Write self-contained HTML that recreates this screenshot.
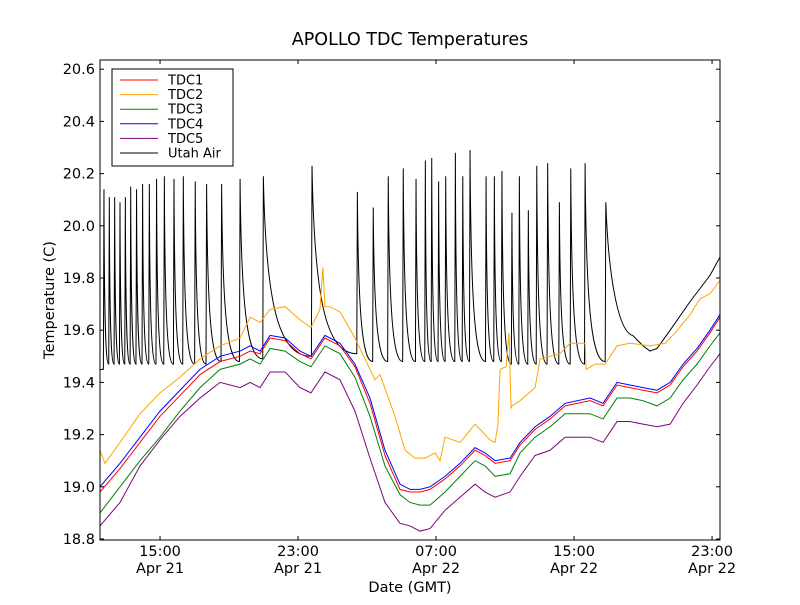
<!DOCTYPE html>
<html><head><meta charset="utf-8"><style>
body{margin:0;background:#fff;}
svg text{font-family:"DejaVu Sans","Liberation Sans",sans-serif;}
</style></head><body>
<svg id="chart" width="800" height="600" viewBox="0 0 800 600" xmlns="http://www.w3.org/2000/svg">
<rect width="800" height="600" fill="#fff"/>
<text x="410" y="45" font-size="17.5" text-anchor="middle">APOLLO TDC Temperatures</text>
<text x="54" y="300" font-size="14.5" text-anchor="middle" transform="rotate(-90 54 300)">Temperature (C)</text>
<text x="410" y="592" font-size="14.5" text-anchor="middle">Date (GMT)</text>
<defs><clipPath id="clip"><rect x="100" y="60" width="620" height="480"/></clipPath></defs>
<g id="series" clip-path="url(#clip)"></g>
<g id="axes"></g>
<rect x="100" y="60" width="620" height="480" fill="none" stroke="#000" stroke-width="1"/>
<g>
<rect x="112" y="69" width="121" height="97" fill="#fff" stroke="#000" stroke-width="1"/>
<g id="legendItems"></g>
</g>
</svg>
<script>
const tdcTimes=[11.52,12.68,13.84,15.00,16.16,17.32,18.48,19.64,20.22,20.80,21.38,22.25,23.11,23.75,24.56,25.43,26.30,27.17,28.04,28.91,29.49,30.07,30.65,31.52,32.39,33.26,33.84,34.42,35.29,35.87,36.74,37.61,38.48,39.93,40.68,41.49,42.24,43.00,43.81,44.57,45.32,46.13,46.88,47.46];
const tdc4=[19.00,19.09,19.19,19.29,19.37,19.45,19.50,19.52,19.54,19.52,19.58,19.57,19.52,19.50,19.58,19.55,19.47,19.34,19.14,19.01,18.99,18.99,19.00,19.04,19.09,19.15,19.13,19.10,19.11,19.17,19.23,19.27,19.32,19.34,19.32,19.40,19.39,19.38,19.37,19.40,19.47,19.53,19.60,19.66];
const tdc1=[18.98,19.07,19.17,19.27,19.35,19.43,19.48,19.50,19.52,19.51,19.57,19.56,19.51,19.49,19.57,19.54,19.46,19.32,19.12,18.99,18.98,18.98,18.99,19.03,19.08,19.14,19.12,19.09,19.10,19.16,19.22,19.26,19.31,19.33,19.31,19.39,19.38,19.37,19.36,19.39,19.46,19.52,19.59,19.65];
const tdc3=[18.90,19.00,19.10,19.19,19.29,19.38,19.45,19.47,19.49,19.47,19.53,19.52,19.48,19.46,19.54,19.51,19.42,19.27,19.08,18.97,18.94,18.93,18.93,18.98,19.04,19.10,19.08,19.04,19.05,19.13,19.19,19.23,19.28,19.28,19.26,19.34,19.34,19.33,19.31,19.34,19.41,19.47,19.54,19.59];
const tdc5=[18.85,18.94,19.08,19.18,19.27,19.34,19.40,19.38,19.40,19.38,19.44,19.44,19.38,19.36,19.44,19.41,19.29,19.11,18.94,18.86,18.85,18.83,18.84,18.91,18.96,19.01,18.98,18.96,18.98,19.04,19.12,19.14,19.19,19.19,19.17,19.25,19.25,19.24,19.23,19.24,19.32,19.39,19.46,19.51];
const tdc2Times=[11.52,11.81,12.68,13.84,15.00,16.16,17.32,18.48,19.64,20.22,20.80,21.38,22.25,23.11,23.75,24.27,24.44,24.56,24.85,25.43,26.30,26.88,27.46,27.75,28.62,29.20,29.78,30.36,30.94,31.23,31.52,32.39,33.26,34.13,34.42,34.59,34.71,35.06,35.23,35.35,35.41,35.87,36.74,37.03,38.19,38.77,39.64,39.70,40.22,40.80,41.49,42.24,43.40,44.28,44.86,45.73,46.30,46.88,47.46];
const tdc2=[19.14,19.09,19.17,19.28,19.36,19.42,19.49,19.54,19.57,19.65,19.63,19.68,19.69,19.64,19.61,19.68,19.84,19.69,19.69,19.67,19.57,19.49,19.41,19.43,19.27,19.14,19.11,19.11,19.13,19.10,19.19,19.17,19.24,19.18,19.17,19.24,19.45,19.46,19.59,19.30,19.31,19.33,19.38,19.49,19.51,19.55,19.55,19.45,19.47,19.47,19.54,19.55,19.54,19.55,19.59,19.66,19.72,19.74,19.79];
const utahSpikeTimes=[11.75,12.06,12.37,12.68,12.99,13.30,13.64,13.99,14.38,14.80,15.25,15.81,16.35,17.04,17.70,18.57,19.64,20.99,23.81,26.44,27.36,28.23,29.10,29.84,30.38,30.75,31.15,31.56,32.12,32.55,32.97,33.90,34.38,34.82,35.40,35.83,36.35,36.84,37.47,38.15,38.81,39.64,40.84];
const utahSpikePeaks=[20.14,20.11,20.11,20.09,20.11,20.15,20.14,20.16,20.16,20.18,20.19,20.18,20.19,20.17,20.16,20.16,20.18,20.19,20.23,20.13,20.07,20.19,20.22,20.18,20.25,20.26,20.17,20.19,20.28,20.19,20.29,20.19,20.19,20.21,20.05,20.19,20.06,20.23,20.24,20.09,20.22,20.24,20.09];
const utahValleys=[19.45,19.47,19.47,19.47,19.47,19.47,19.47,19.47,19.47,19.47,19.47,19.47,19.47,19.47,19.47,19.48,19.48,19.49,19.50,19.51,19.48,19.48,19.48,19.48,19.48,19.48,19.48,19.48,19.48,19.48,19.48,19.48,19.48,19.48,19.47,19.47,19.47,19.47,19.47,19.47,19.47,19.47,19.48];
const utahTailTimes=[42.40,43.00,43.40,43.81,44.57,45.73,46.88,47.46];
const utahTailValues=[19.58,19.54,19.52,19.53,19.60,19.71,19.81,19.88];
const yTicks=[18.8,19.0,19.2,19.4,19.6,19.8,20.0,20.2,20.4,20.6];
const xTickTimes=[15,23,31,39,47];
const xTickTimeLabels=["15:00","23:00","07:00","15:00","23:00"];
const xTickDateLabels=["Apr 21","Apr 21","Apr 22","Apr 22","Apr 22"];

const T0=11.52,T1=47.46,V0=18.8;
function X(t){return 100+(t-T0)*620/(T1-T0);}
function Y(v){return 539-(v-V0)*261;}
const NS="http://www.w3.org/2000/svg";
const sg=document.getElementById('series'), ax=document.getElementById('axes'), lg=document.getElementById('legendItems');
function mk(tag,attrs,parent){const e=document.createElementNS(NS,tag);for(const k in attrs)e.setAttribute(k,attrs[k]);parent.appendChild(e);return e;}
function linePath(ts,vs){return ts.map((t,i)=>(i?'L':'M')+X(t).toFixed(2)+' '+Y(vs[i]).toFixed(2)).join(' ');}

let d='M'+X(T0)+' '+Y(utahValleys[0]);
for(let i=0;i<utahSpikeTimes.length;i++){
  const tp=utahSpikeTimes[i], xp=X(tp), yp=Y(utahSpikePeaks[i]);
  d+=' L'+(xp-0.6).toFixed(2)+' '+Y(utahValleys[i]).toFixed(2)+' L'+xp.toFixed(2)+' '+yp.toFixed(2);
  let xn,yb,last=(i===utahSpikeTimes.length-1);
  if(!last){xn=X(utahSpikeTimes[i+1])-0.6;yb=Y(utahValleys[i+1]);}
  else{xn=X(utahTailTimes[0]);yb=Y(utahTailValues[0]);}
  const dx=xn-xp;
  if(!last){
    d+=' C'+(xp+0.05*dx).toFixed(2)+' '+(yp+0.7*(yb-yp)).toFixed(2)+' '+(xp+0.3*dx).toFixed(2)+' '+yb.toFixed(2)+' '+xn.toFixed(2)+' '+yb.toFixed(2);
  } else {
    d+=' C'+(xp+0.1*dx).toFixed(2)+' '+(yp+0.6*(yb-yp)).toFixed(2)+' '+(xp+0.5*dx).toFixed(2)+' '+(yb-3).toFixed(2)+' '+xn.toFixed(2)+' '+yb.toFixed(2);
  }
}
for(let i=1;i<utahTailTimes.length;i++){d+=' L'+X(utahTailTimes[i]).toFixed(2)+' '+Y(utahTailValues[i]).toFixed(2);}

const series=[
 {name:'TDC1',color:'#ff0000',d:linePath(tdcTimes,tdc1),id:'line-tdc1'},
 {name:'TDC2',color:'#ffa500',d:linePath(tdc2Times,tdc2),id:'line-tdc2'},
 {name:'TDC3',color:'#008000',d:linePath(tdcTimes,tdc3),id:'line-tdc3'},
 {name:'TDC4',color:'#0000ff',d:linePath(tdcTimes,tdc4),id:'line-tdc4'},
 {name:'TDC5',color:'#800080',d:linePath(tdcTimes,tdc5),id:'line-tdc5'},
 {name:'Utah Air',color:'#000000',d:d,id:'line-utah-air'}
];
const drawOrder=[5,1,3,0,2,4];
drawOrder.forEach(i=>{const s=series[i];
  const p=mk('path',{d:s.d,fill:'none',stroke:s.color,'stroke-width':1},sg);
  
  
});
series.forEach((s,i)=>{const y=80+i*14.6;
  const l=mk('line',{x1:120,x2:158,y1:y,y2:y,stroke:s.color,'stroke-width':1},lg);
  
  
  const t=mk('text',{x:168,y:y+4.5,'font-size':13},lg);t.textContent=s.name;
  
  
});
yTicks.forEach(v=>{const y=Y(v);
  const a=mk('line',{x1:100,x2:104,y1:y,y2:y,stroke:'#000'},ax);
  
  
  const b=mk('line',{x1:716,x2:720,y1:y,y2:y,stroke:'#000'},ax);
  
  
  const t=mk('text',{x:95,y:y+5,'font-size':14.5,'text-anchor':'end'},ax);t.textContent=v.toFixed(1);
  
  
});
xTickTimes.forEach((tt,i)=>{const x=X(tt);
  const a=mk('line',{x1:x,x2:x,y1:540,y2:536,stroke:'#000'},ax);
  
  
  const b=mk('line',{x1:x,x2:x,y1:60,y2:64,stroke:'#000'},ax);
  
  
  const t=mk('text',{x:x,y:556,'font-size':14.5,'text-anchor':'middle'},ax);t.textContent=xTickTimeLabels[i];
  
  
  const t2=mk('text',{x:x,y:573,'font-size':14.5,'text-anchor':'middle'},ax);t2.textContent=xTickDateLabels[i];
  
  
});
</script>
</body></html>
